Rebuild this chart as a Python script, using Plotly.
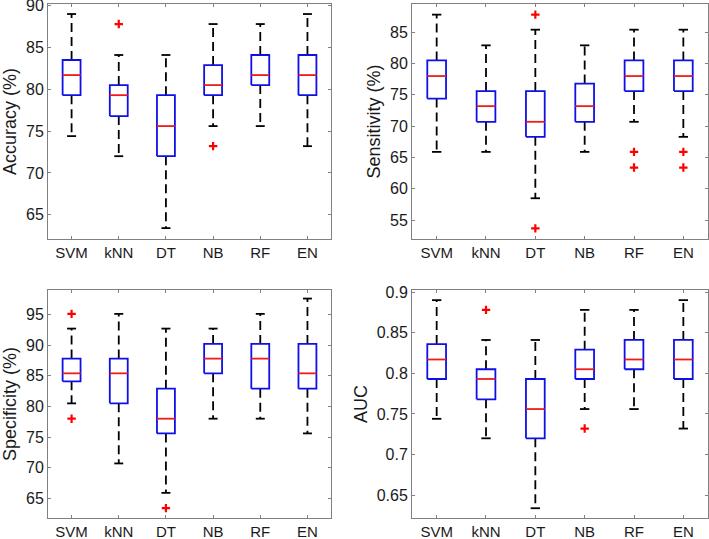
import plotly.graph_objects as go
from plotly.subplots import make_subplots

classifiers = ["SVM", "kNN", "DT", "NB", "RF", "EN"]

# box stats: lower whisker, q1, median, q3, upper whisker
acc_lo = [74.4, 72.0, 63.4, 75.6, 75.6, 73.2]
acc_q1 = [79.3, 76.8, 72.0, 79.3, 80.5, 79.3]
acc_med = [81.7, 79.3, 75.6, 80.5, 81.7, 81.7]
acc_q3 = [83.5, 80.5, 79.3, 82.9, 84.1, 84.1]
acc_hi = [89.0, 84.1, 84.1, 87.8, 87.8, 89.0]
acc_out = [[], [87.8], [], [73.2], [], []]

sen_lo = [65.9, 65.9, 58.5, 65.9, 70.7, 68.3]
sen_q1 = [74.4, 70.7, 68.3, 70.7, 75.6, 75.6]
sen_med = [78.0, 73.2, 70.7, 73.2, 78.0, 78.0]
sen_q3 = [80.5, 75.6, 75.6, 76.8, 80.5, 80.5]
sen_hi = [87.8, 82.9, 85.4, 82.9, 85.4, 85.4]
sen_out = [[], [], [87.8, 53.7], [], [65.9, 63.4], [65.9, 63.4]]

spe_lo = [80.5, 70.7, 65.9, 78.0, 78.0, 75.6]
spe_q1 = [84.1, 80.5, 75.6, 85.4, 82.9, 82.9]
spe_med = [85.4, 85.4, 78.0, 87.8, 87.8, 85.4]
spe_q3 = [87.8, 87.8, 82.9, 90.2, 90.2, 90.2]
spe_hi = [92.7, 95.1, 92.7, 92.7, 95.1, 97.6]
spe_out = [[95.1, 78.0], [], [63.4], [], [], []]

auc_lo = [0.744, 0.720, 0.634, 0.756, 0.756, 0.732]
auc_q1 = [0.793, 0.768, 0.720, 0.793, 0.805, 0.793]
auc_med = [0.817, 0.793, 0.756, 0.805, 0.817, 0.817]
auc_q3 = [0.836, 0.805, 0.793, 0.829, 0.841, 0.841]
auc_hi = [0.890, 0.841, 0.841, 0.878, 0.878, 0.890]
auc_out = [[], [0.878], [], [0.732], [], []]

panels = [
    ("Accuracy (%)", acc_lo, acc_q1, acc_med, acc_q3, acc_hi, acc_out, [62.1, 90.2], [65, 70, 75, 80, 85, 90]),
    ("Sensitivity (%)", sen_lo, sen_q1, sen_med, sen_q3, sen_hi, sen_out, [52.0, 89.5], [55, 60, 65, 70, 75, 80, 85]),
    ("Specificity (%)", spe_lo, spe_q1, spe_med, spe_q3, spe_hi, spe_out, [61.8, 99.0], [65, 70, 75, 80, 85, 90, 95]),
    ("AUC", auc_lo, auc_q1, auc_med, auc_q3, auc_hi, auc_out, [0.622, 0.9025], [0.65, 0.7, 0.75, 0.8, 0.85, 0.9]),
]

fig = make_subplots(rows=2, cols=2)
bw = 0.19   # half box width
cw = 0.095  # half cap width
font = "Liberation Sans, Arial, sans-serif"
txt = "#1a1a1a"

for k, (title, lo, q1, med, q3, hi, out, yr, tv) in enumerate(panels):
    r, c = k // 2 + 1, k % 2 + 1
    wx, wy, cx, cy, bx, by, mx, my, ox, oy = [], [], [], [], [], [], [], [], [], []
    for i in range(len(classifiers)):
        x = i + 1
        wx += [x, x, None, x, x, None]
        wy += [q3[i], hi[i], None, q1[i], lo[i], None]
        cx += [x - cw, x + cw, None, x - cw, x + cw, None]
        cy += [hi[i], hi[i], None, lo[i], lo[i], None]
        bx += [x - bw, x + bw, x + bw, x - bw, x - bw, None]
        by += [q1[i], q1[i], q3[i], q3[i], q1[i], None]
        mx += [x - bw, x + bw, None]
        my += [med[i], med[i], None]
        for v in out[i]:
            ox.append(x)
            oy.append(v)
    fig.add_trace(go.Scatter(x=wx, y=wy, mode="lines", line=dict(color="black", width=1.8, dash="9px,5px")), row=r, col=c)
    fig.add_trace(go.Scatter(x=cx, y=cy, mode="lines", line=dict(color="black", width=1.8)), row=r, col=c)
    fig.add_trace(go.Scatter(x=bx, y=by, mode="lines", line=dict(color="#1010e6", width=1.8)), row=r, col=c)
    fig.add_trace(go.Scatter(x=mx, y=my, mode="lines", line=dict(color="#ee1c1c", width=1.8)), row=r, col=c)
    fig.add_trace(go.Scatter(x=ox, y=oy, mode="markers",
                             marker=dict(symbol="cross-thin", size=6, line=dict(color="red", width=2.2))), row=r, col=c)
    fig.update_xaxes(range=[0.5, 6.5], tickvals=list(range(1, 7)), ticktext=classifiers, row=r, col=c)
    fig.update_yaxes(range=yr, tickvals=tv, title_text=title, row=r, col=c)

fig.update_xaxes(showline=True, linecolor="#808080", linewidth=1, mirror="ticks", ticks="inside",
                 ticklen=3, tickcolor="#808080", showgrid=False, zeroline=False, automargin=False,
                 tickfont=dict(size=15, color=txt), ticklabeloverflow="allow")
fig.update_yaxes(showline=True, linecolor="#808080", linewidth=1, mirror="ticks", ticks="inside",
                 ticklen=3, tickcolor="#808080", showgrid=False, zeroline=False, automargin=False,
                 tickfont=dict(size=16, color=txt), title_font=dict(size=18, color=txt),
                 title_standoff=4, ticklabeloverflow="allow")

fig.update_layout(
    xaxis=dict(domain=[0.0677, 0.4669]), yaxis=dict(domain=[0.5566, 0.9926]),
    xaxis2=dict(domain=[0.5811, 0.9986]), yaxis2=dict(domain=[0.5566, 0.9926]),
    xaxis3=dict(domain=[0.0677, 0.4669]), yaxis3=dict(domain=[0.039, 0.462]),
    xaxis4=dict(domain=[0.5811, 0.9986]), yaxis4=dict(domain=[0.039, 0.462]),
    width=709, height=539, margin=dict(l=0, r=0, t=0, b=0),
    showlegend=False, plot_bgcolor="white", paper_bgcolor="white",
    font=dict(family=font),
)

fig.write_html("out.html", config={"displayModeBar": False},
               post_script="document.body.style.margin='0px';document.body.style.overflow='hidden';")
